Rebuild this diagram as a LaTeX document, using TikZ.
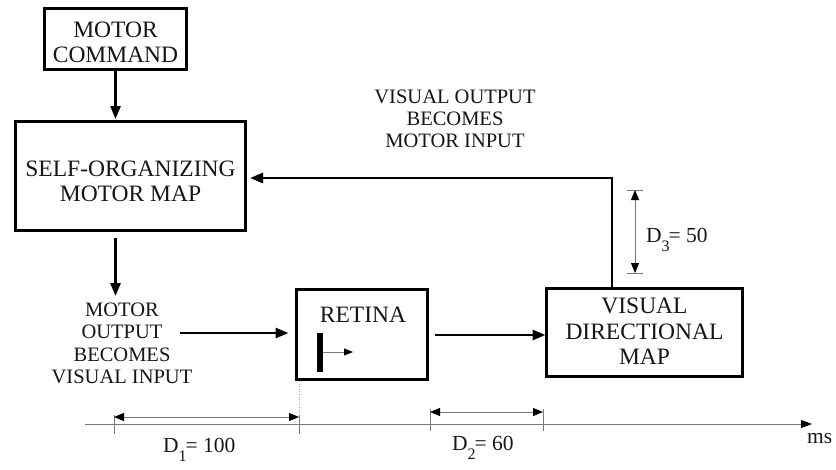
\documentclass[tikz,border=0pt]{standalone}
\usepackage{fontspec}
\setmainfont{Liberation Serif}
\usetikzlibrary{arrows.meta}
\definecolor{ink}{RGB}{22,22,22}
\definecolor{thin}{RGB}{120,120,120}
\newcommand\bxfont{\fontsize{23.5}{25.5}\selectfont}
\newcommand\lbfont{\fontsize{20.5}{22.3}\selectfont}
\newcommand\dmfont{\fontsize{21.5}{23}\selectfont}
\newcommand\dsub[1]{\raisebox{-9pt}{\fontsize{16}{16}\selectfont #1}\kern-1pt}
\begin{document}
\begin{tikzpicture}[x=1pt,y=-1pt,
  box/.style={draw=black,line width=3pt,inner sep=0pt},
  boxtext/.style={inner sep=0pt,text=ink,align=center,font=\bxfont},
  lbl/.style={inner sep=0pt,text=ink,align=center,font=\lbfont},
  dlbl/.style={inner sep=0pt,text=ink,font=\dmfont},
  flow/.style={draw=black,line width=2.7pt,-{Triangle[length=13pt,width=10pt]}},
  dimline/.style={draw=thin,line width=0.9pt,
    {Triangle[length=10pt,width=8pt,color=black]}-{Triangle[length=10pt,width=8pt,color=black]}},
  tickline/.style={draw=thin,line width=0.8pt},
  axisline/.style={draw=thin,line width=1pt,-{Triangle[length=11pt,width=8pt,color=black]}},
]
\useasboundingbox (0,0) rectangle (836,469);

% blocks
\node[box,minimum width=142pt,minimum height=61pt] (cmd) at (115.5,39) {};
\node[boxtext] (cmdT) at (115.5,42.5) {MOTOR\\COMMAND};
\node[box,minimum width=230pt,minimum height=109pt] (som) at (130.5,176) {};
\node[boxtext] (somT) at (130.5,181.5) {SELF-ORGANIZING\\MOTOR MAP};
\node[box,minimum width=131pt,minimum height=90pt] (ret) at (362,334.5) {};
\node[box,minimum width=196pt,minimum height=88pt] (vdm) at (644.5,332.5) {};
\node[boxtext] (vdmT) at (644.5,331.5) {VISUAL\\DIRECTIONAL\\MAP};

% retina contents: stimulus bar and its motion
\node[boxtext,anchor=base] (retT) at (363,322) {RETINA};
\node[fill=black,inner sep=0pt,minimum width=6pt,minimum height=39pt] (bar) at (320,352.5) {};
\coordinate (barTip) at (353,352);
\draw[draw=thin,line width=0.8pt,-{Triangle[length=9pt,width=7pt,color=black]}] (bar.east |- barTip) -- (barTip);

% free labels
\node[lbl] (mo) at (122,343.5) {MOTOR\\OUTPUT\\BECOMES\\VISUAL INPUT};
\node[lbl] (vo) at (455,118.7) {VISUAL OUTPUT\\BECOMES\\MOTOR INPUT};

% flow arrows
\coordinate (moTop) at (115.5,296);
\coordinate (moOut) at (180,333);
\coordinate (retOut) at (435,335);
\coordinate (fbTop) at (612,178);
\draw[flow] (cmd.south) -- ([yshift=1pt]som.north -| cmd.south);
\draw[flow] ([yshift=-6pt]som.south -| cmd.south) -- (moTop);
\draw[flow] (moOut) -- ([xshift=-6.5pt]ret.west |- moOut);
\draw[flow] (retOut) -- ([xshift=0.5pt]vdm.west |- retOut);
\draw[flow] (vdm.north -| fbTop) -- (fbTop) -- ([xshift=3pt]som.east |- fbTop);

% D3 delay
\coordinate (d3a) at (635,190);
\coordinate (d3b) at (635,273);
\draw[tickline] ([xshift=-8pt]d3a) -- ([xshift=8pt]d3a);
\draw[tickline] ([xshift=-8pt]d3b) -- ([xshift=8pt]d3b);
\draw[dimline] (d3a) -- (d3b);
\node[dlbl,anchor=base west] (d3L) at (646,242) {D\dsub{3}= 50};

% time axis
\coordinate (ax0) at (85,424);
\coordinate (ax1) at (812,424);
\draw[axisline] (ax0) -- (ax1);
\node[dlbl,anchor=base west] (ms) at (807,443) {ms};

% D1 delay
\coordinate (d1a) at (114,417);
\coordinate (d1b) at (299,417);
\draw[draw=thin!60,line width=0.6pt,dotted] (ret.south -| d1b) -- (d1b);
\draw[tickline] ([yshift=2pt]d1a) -- ([yshift=-17pt]d1a);
\draw[tickline] ([yshift=2pt]d1b) -- ([yshift=-17pt]d1b);
\draw[dimline] (d1a) -- (d1b);
\node[dlbl,anchor=base west] (d1L) at (163,452) {D\dsub{1}= 100};

% D2 delay
\coordinate (d2a) at (430,412);
\coordinate (d2b) at (543,412);
\draw[tickline] ([yshift=3pt]d2a) -- ([yshift=-19pt]d2a);
\draw[tickline] ([yshift=3pt]d2b) -- ([yshift=-19pt]d2b);
\draw[dimline] (d2a) -- (d2b);
\node[dlbl,anchor=base west] (d2L) at (452,450) {D\dsub{2}= 60};
\end{tikzpicture}
\end{document}
